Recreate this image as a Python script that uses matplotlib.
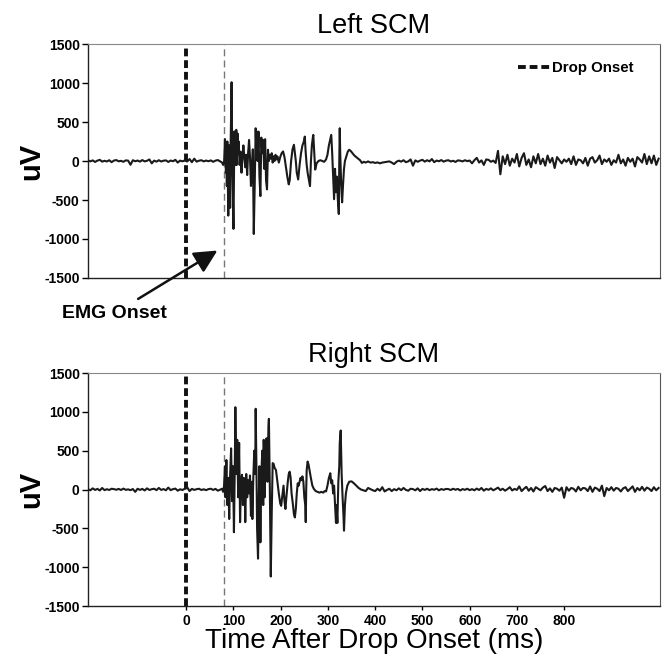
import numpy as np
import matplotlib
matplotlib.use("Agg")
import matplotlib.pyplot as plt
from matplotlib.lines import Line2D

plt.rcParams['font.family'] = ['Liberation Sans', 'DejaVu Sans']

# ---------------- data ----------------
x_ticks = [0, 100, 200, 300, 400, 500, 600, 700, 800]
y_ticks = [-1500, -1000, -500, 0, 500, 1000, 1500]
drop_onset = 0
emg_onset = 80
pre_start, pre_step = -208, 5
post_start, post_step = 385, 5

left_pre = [10, -5, 8, -12, 5, 15, -8, 3, -6, 10,
            -15, 6, 12, -4, 2, -10, 8, 5, -48, 10,
            -3, 6, -8, 12, -5, 3, 20, -30, 5, -8,
            10, -6, 4, 8, -12, 6, -3, 15, -20, 5,
            -4, 8, -6, 25, -15, 30, -8, 4, 10, -5,
            6, -3, 8, -10, 5, 12]
left_burst_t = [76, 78, 80, 81, 82, 83, 84, 85, 86, 87, 88, 89, 90, 91, 92, 93, 94, 95, 96, 97,
                98, 99, 100, 101, 102, 103, 104, 105, 106, 107, 108, 109, 110, 111, 113, 115, 117, 119, 121, 123,
                125, 127, 129, 131, 133, 135, 137, 139, 141, 143, 145, 147, 148, 149, 151, 153, 155, 157, 159, 161,
                163, 165, 167, 169, 171, 173, 175, 177, 179, 181, 183, 185, 187, 189, 191, 193, 196, 199, 202, 205,
                208, 211, 214, 217, 219, 222, 225, 228, 230, 232, 234, 237, 240, 243, 246, 249, 251, 253, 255, 257,
                260, 262, 264, 266, 268, 269, 271, 273, 276, 280, 284, 288, 292, 296, 299, 302, 305, 307, 309, 311,
                313, 315, 317, 319, 321, 323, 324, 325, 326, 328, 330, 332, 334, 336, 339, 342, 345, 348, 352, 356,
                360, 364, 368, 372, 376, 380]
left_burst_v = [-20, -50, -30, 100, 280, 200, -150, 150, -320, 250, -200, -700, 0, 200, -300, -600, 200, 600, 1010, 300,
                -200, -500, -870, -200, 380, 100, 150, -50, 400, -50, 200, 350, 100, 250, -50, 120, -150, 50, 200, 50,
                -80, 80, -180, 100, 270, 50, -320, -100, 150, -936, -300, 420, 200, 380, 0, 377, -200, -450, 300, 100,
                270, -100, 280, -250, -364, 144, 0, 80, 30, 100, -20, 60, 0, 80, 20, 60, -20, 50, 100, 123,
                50, -80, -200, -300, -250, 0, 150, 208, 100, 0, -150, -237, -50, 100, 200, 250, 313, 100, -50, -150,
                -250, -322, 0, 200, 300, 335, 100, -110, -30, 0, 10, 0, -10, 20, 80, 200, 280, 335, 100, -200,
                -490, -100, -400, -200, -500, -680, 0, 420, 100, -300, -530, -300, -100, 0, 60, 120, 144, 130, 100, 70,
                50, 30, 10, -25, -10, -20]
left_post = [-5, -20, -15, -25, -18, -30, -20, -15, -10, -5, -20, -40, -10, 5, -8, 10, -15, -5, 20, -60, 8, -10, 5, 15,
             -8, 10, -5, 25, -15, 6, -3, 12, -8, 5, 10, -6, 3, -12, 8, 4, -5, 10, -2, 6,
             -30, 10, 40, -20, 8, -50, 20, 15, -10, 5, -25, 130, -170, 60, -40, 80, -60, 30, -20, 90,
             -70, 40, 100, -50, 20, -80, 60, -30, 90, -40, 30, -60, 70, -20, 40, -90, 50, 10, -30, 20,
             -10, 30, -40, 60, -50, 20, 10, -30, 40, -60, 30, 50, -20, 10, 70, -40, 20, -10, 30, -50,
             10, -20, 80, -30, 20, -60, 40, -10, 30, -70, 50, 20, -20, 90, -40, 60, -30, 70, -50, 30]

right_pre = [5, -10, 15, -5, 8, -12, 20, -8, 4, -6,
             10, 5, -3, 8, -6, 12, -4, 2, -8, 6,
             -30, 10, -5, 8, -12, 15, -6, 4, 10, -8,
             20, -5, 6, -10, 25, -8, 5, 12, -15, 3,
             -6, 10, 30, -20, 8, -5, 4, 10, -6, 3,
             -8, 5, 10, -5, 8, -15]
right_burst_t = [76, 78, 80, 82, 83, 85, 87, 89, 91, 93, 95, 97, 99, 101, 103, 104, 106, 108, 110, 112,
                 114, 116, 118, 120, 122, 124, 125, 127, 129, 131, 133, 135, 137, 139, 140, 142, 144, 146, 147, 149,
                 150, 152, 154, 155, 157, 159, 161, 163, 164, 166, 168, 170, 172, 174, 175, 177, 179, 181, 183, 185,
                 187, 190, 193, 196, 199, 201, 203, 206, 208, 210, 212, 215, 217, 219, 221, 223, 226, 228, 230, 232,
                 234, 236, 238, 240, 242, 244, 246, 248, 250, 252, 253, 254, 255, 257, 259, 261, 264, 267, 270, 274,
                 278, 282, 286, 290, 293, 296, 299, 302, 305, 307, 309, 311, 313, 315, 317, 318, 320, 322, 324, 325,
                 327, 329, 331, 333, 334, 336, 338, 341, 345, 350, 355, 360, 365, 370, 375, 380]
right_burst_v = [10, -30, 40, 300, -100, 380, -200, 150, -380, 200, 530, -150, 300, -550, 400, 1060, 200, 640, -100, 600,
                 -420, 100, 190, -200, 150, -100, -420, 200, -100, 120, -50, 180, -340, 100, -380, 150, 500, 200, 1040, 100,
                 -500, -890, 0, 300, -680, 200, 500, -200, 640, -100, 500, 660, 100, 800, 910, 0, -1120, -300, 340, 330,
                 280, 250, 100, -50, -180, -210, -100, 50, -150, -250, -100, 100, 200, 230, 150, -50, -200, -320, -360, -250,
                 -50, 80, 50, 100, 150, 120, 170, 100, -100, -200, -420, 0, 250, 360, 320, 250, 144, 50, 10, -20,
                 -30, -40, -30, -40, -20, -25, 50, 150, 210, 80, 120, -50, 50, -200, -430, -200, -430, 100, 300, 600,
                 760, 200, -100, -350, -530, -200, -50, 50, 100, 105, 80, 50, 20, 0, -10, -20]
right_post = [20, 5, -10, -20, 10, -15, 30, -25, -5, 10, -20, 5, -10, 15, -8, 20, -5, -15, 10, 5, -10, 15, -20, 8,
              -5, 10, -8, 5, -3, 12, -10, 6, -4, 8, 5, -6, 10, -3, 8, -12, 6, -4, 10, -8,
              5, -10, 12, -6, 20, -15, 8, -4, 15, -10, 6, 25, -8, 10, -15, 5, 30, -12, 8, -5,
              40, -20, 10, 35, -15, 20, -25, 30, 10, -10, 25, 45, -20, 15, -30, 20, 10, -15, 25, -106,
              30, -15, 20, 10, -25, 35, -10, 20, 15, -20, 40, -30, 25, 10, -20, 50, -85, 20, -10, 30,
              -15, 20, 10, -25, 15, 30, -20, 10, 40, -30, 20, -10, 35, -15, 25, 10, -20, 30, -10, 20]


def build(pre, bt, bv, post):
    t_pre = pre_start + pre_step * np.arange(len(pre))
    t_post = post_start + post_step * np.arange(len(post))
    t = np.concatenate([t_pre, np.array(bt, float), t_post])
    v = np.concatenate([np.array(pre, float), np.array(bv, float), np.array(post, float)])
    return t, v


# ---------------- figure ----------------
fig = plt.figure(figsize=(6.64, 6.60), dpi=100)
ax1 = fig.add_axes([0.1325, 0.5788, 0.8615, 0.3545])
ax2 = fig.add_axes([0.1325, 0.0818, 0.8615, 0.3530])

traces = [(ax1, build(left_pre, left_burst_t, left_burst_v, left_post), "Left SCM"),
          (ax2, build(right_pre, right_burst_t, right_burst_v, right_post), "Right SCM")]

for ax, (t, v), title in traces:
    ax.plot(t, v, color='#1a1a1a', lw=1.5, zorder=3)
    ax.axvline(drop_onset, color='#111111', lw=2.8, linestyle=(0, (2.0, 1.0)), zorder=2)
    ax.axvline(emg_onset, color='#777777', lw=1.0, linestyle=(0, (5, 3)), zorder=2)
    ax.set_xlim(-208, 1003)
    ax.set_ylim(-1500, 1500)
    ax.set_yticks(y_ticks)
    ax.set_yticklabels([str(y) for y in y_ticks], fontsize=10, fontweight='bold')
    ax.set_title(title, fontsize=19.5, pad=8)
    ax.tick_params(axis='y', direction='out', length=4, width=1, pad=2)
    ax.spines['top'].set_color('#888888')
    ax.spines['right'].set_color('#555555')
    for s in ['left', 'bottom']:
        ax.spines[s].set_color('#222222')
        ax.spines[s].set_linewidth(1.0)
    pos = ax.get_position()
    fig.text(31 / 664, pos.y0 + pos.height / 2, 'uV', rotation=90, fontsize=21,
             fontweight='bold', ha='center', va='center')

ax1.set_xticks([])
ax2.set_xticks(x_ticks)
ax2.set_xticklabels([str(x) for x in x_ticks], fontsize=10, fontweight='bold')
ax2.tick_params(axis='x', direction='out', length=3, width=1, pad=3)
ax2.set_xlabel('Time After Drop Onset (ms)', fontsize=20, labelpad=0)

handle = Line2D([], [], color='#111111', lw=2.8, linestyle=(0, (2.0, 1.0)))
ax1.legend([handle], ['Drop Onset'], loc='upper right', bbox_to_anchor=(0.978, 0.985),
           frameon=False, handlelength=2.2, handletextpad=0.1,
           prop={'size': 10.8, 'weight': 'bold'})

ax1.annotate('EMG Onset', xy=(66, -1148), xytext=(-151, -1950),
             fontsize=14, fontweight='bold', ha='center', va='center',
             annotation_clip=False,
             arrowprops=dict(arrowstyle='-|>,head_length=1.0,head_width=0.5',
                             color='#111111', lw=1.8, shrinkA=4, shrinkB=0))

fig.savefig('out.png', dpi=100)
